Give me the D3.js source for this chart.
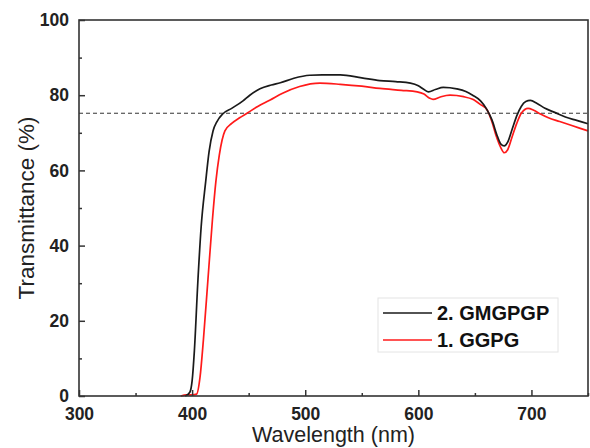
<!DOCTYPE html>
<html><head><meta charset="utf-8">
<script src="https://cdn.jsdelivr.net/npm/d3@7"></script>
<style>body{margin:0;background:#fff}svg{display:block}</style>
</head><body>
<svg id="c" width="590" height="448"></svg>
<script>
const blackX = [394,398,400,402,405,408,412,415,418.5,422,427,435,445,451,460,470,478,490,504,515,531,550,566,580,593,600,605,609,615,622,634,642,648,655,660,665,670,673,676,679,683,687,691,695,699,705,712,720,730,740,750];
const blackY = [0,1,4,12,30,45,57,65,70.5,73,75,76.5,78.5,80,81.7,82.7,83.3,84.5,85.3,85.4,85.4,84.6,83.9,83.6,83.2,82.5,81.5,80.9,81.5,82.1,81.7,81,80,78.5,76.5,73.5,69,67,66.5,67.5,71,74.5,77,78.3,78.6,77.8,76.5,75.5,74.2,73.3,72.4];
const redX = [390,395,400,404,407,410,414,418,421,424,429,435,442,448.5,458,469,480,495,513,531,550,566,585,599,605,610,613,620,628,640,648,655,661,665,669,673,676,679,683,687,691,697,702,708,715,725,735,750];
const redY = [0,0.3,0.3,0.5,5,15,31,47,57,64,70.5,72.5,74,75.2,77,78.7,80.5,82.3,83.2,82.9,82.4,81.8,81.3,80.9,80.3,79.2,78.9,79.6,80,79.6,78.9,77.5,76,73,69,66,64.7,65.5,69,72.5,75.2,76.5,76,75,74,73,72,70.5];
const refLevel = 75.2;
const xTicks = [300,400,500,600,700];
const xMinor = [350,450,550,650,750];
const yTicks = [0,20,40,60,80,100];
const yMinor = [10,30,50,70,90];
const seriesNames = ["2. GMGPGP","1. GGPG"];
const seriesColors = ["#1a1a1a","#ff1a1a"];

const svg = d3.select("#c");
const L=79,R=588,T=20,B=396;
const x = d3.scaleLinear().domain([300,750]).range([L,R]);
const y = d3.scaleLinear().domain([0,100]).range([B,T]);
const axisCol="#333";

svg.append("line").attr("x1",L).attr("x2",R).attr("y1",y(refLevel)).attr("y2",y(refLevel))
  .attr("stroke","#333").attr("stroke-width",1).attr("stroke-dasharray","4,3");

const line = d3.line().x(d=>x(d[0])).y(d=>y(d[1])).curve(d3.curveMonotoneX);
const series = [d3.zip(blackX,blackY), d3.zip(redX,redY)];
svg.append("path").datum(series[1]).attr("d",line).attr("fill","none").attr("stroke",seriesColors[1]).attr("stroke-width",1.7);
svg.append("path").datum(series[0]).attr("d",line).attr("fill","none").attr("stroke",seriesColors[0]).attr("stroke-width",1.7);

svg.append("rect").attr("x",L).attr("y",T).attr("width",R-L).attr("height",B-T)
  .attr("fill","none").attr("stroke",axisCol).attr("stroke-width",1.6);

const font = "'Liberation Sans', Arial, sans-serif";
const gx = svg.append("g").attr("transform",`translate(0,${B})`)
  .call(d3.axisBottom(x).tickValues(xTicks).tickSize(-6).tickPadding(12).tickFormat(d3.format("d")));
gx.select(".domain").remove();
gx.selectAll("line").attr("stroke",axisCol).attr("stroke-width",1.5);
gx.selectAll("text").attr("font-family",font).attr("font-weight","bold").attr("font-size",17.5).attr("fill","#222");
const gxm = svg.append("g").attr("transform",`translate(0,${B})`)
  .call(d3.axisBottom(x).tickValues(xMinor).tickSize(-3).tickFormat(""));
gxm.select(".domain").remove();
gxm.selectAll("line").attr("stroke",axisCol).attr("stroke-width",1.5);

const gy = svg.append("g").attr("transform",`translate(${L},0)`)
  .call(d3.axisLeft(y).tickValues(yTicks).tickSize(-6).tickPadding(10).tickFormat(d3.format("d")));
gy.select(".domain").remove();
gy.selectAll("line").attr("stroke",axisCol).attr("stroke-width",1.5);
gy.selectAll("text").attr("font-family",font).attr("font-weight","bold").attr("font-size",17.5).attr("fill","#222");
const gym = svg.append("g").attr("transform",`translate(${L},0)`)
  .call(d3.axisLeft(y).tickValues(yMinor).tickSize(-3).tickFormat(""));
gym.select(".domain").remove();
gym.selectAll("line").attr("stroke",axisCol).attr("stroke-width",1.5);

svg.append("text").attr("x",(L+R)/2).attr("y",442).attr("text-anchor","middle")
  .attr("font-family",font).attr("font-size",21.5).attr("fill","#222").text("Wavelength (nm)");
svg.append("text").attr("transform",`translate(34,${(T+B)/2}) rotate(-90)`).attr("text-anchor","middle")
  .attr("font-family",font).attr("font-size",22.5).attr("fill","#222").text("Transmittance (%)");

const lg = svg.append("g");
lg.append("rect").attr("x",378).attr("y",298).attr("width",180).attr("height",54)
  .attr("fill","#fff").attr("stroke","#e4e4e4").attr("stroke-width",1);
seriesNames.forEach((n,i)=>{
  const yy = 313 + i*27;
  lg.append("line").attr("x1",383).attr("x2",432).attr("y1",yy).attr("y2",yy)
    .attr("stroke",seriesColors[i]).attr("stroke-width",1.7);
  lg.append("text").attr("x",437).attr("y",yy+7).attr("font-family",font).attr("font-weight","bold")
    .attr("font-size",20).attr("fill","#111").text(n);
});
</script>
</body></html>
